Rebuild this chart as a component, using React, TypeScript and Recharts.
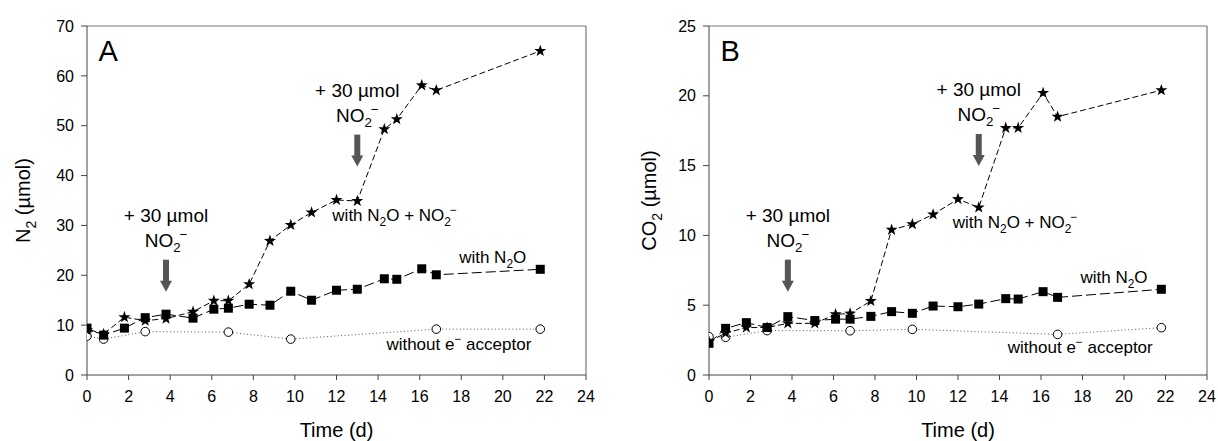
import React from 'react';
import {
  ComposedChart,
  Line,
  XAxis,
  YAxis,
  ReferenceLine,
  ReferenceDot,
} from 'recharts';

const FONT = '"Liberation Sans", Arial, sans-serif';

// sampling days (d)
const days = [0, 0.8, 1.8, 2.8, 3.8, 5.1, 6.1, 6.8, 7.8, 8.8, 9.8, 10.8, 12.0, 13.0, 14.3, 14.9, 16.1, 16.8, 21.8];
const ctrlDays = [0, 0.8, 2.8, 6.8, 9.8, 16.8, 21.8];
const timeTicks = [0, 2, 4, 6, 8, 10, 12, 14, 16, 18, 20, 22, 24];

// Panel A: N2 (umol)
const n2WithNitrite = [9.0, 8.2, 11.6, 10.9, 11.3, 12.7, 14.9, 14.9, 18.2, 26.9, 30.1, 32.6, 35.1, 34.9, 49.3, 51.3, 58.1, 57.1, 65.0];
const n2WithN2O = [9.4, 8.0, 9.4, 11.5, 12.2, 11.4, 13.2, 13.4, 14.2, 14.0, 16.8, 15.0, 17.0, 17.2, 19.3, 19.2, 21.3, 20.1, 21.2];
const n2NoAcceptor = [7.8, 7.2, 8.7, 8.6, 7.2, 9.2, 9.2];
const n2Ticks = [0, 10, 20, 30, 40, 50, 60, 70];

// Panel B: CO2 (umol)
const co2WithNitrite = [2.4, 3.0, 3.4, 3.4, 3.7, 3.7, 4.35, 4.4, 5.3, 10.4, 10.8, 11.5, 12.6, 12.0, 17.7, 17.7, 20.2, 18.5, 20.4];
const co2WithN2O = [2.27, 3.34, 3.75, 3.4, 4.18, 3.9, 4.0, 4.0, 4.2, 4.54, 4.42, 4.94, 4.89, 5.08, 5.47, 5.44, 5.97, 5.56, 6.14];
const co2NoAcceptor = [2.75, 2.7, 3.18, 3.17, 3.27, 2.91, 3.39];
const co2Ticks = [0, 5, 10, 15, 20, 25];

// nitrite additions (day)
const additionDays = [3.8, 13.0];

type Part = [string, 'n' | 'sub' | 'sup', number?];

function Chem({ x, y, parts, size, anchor = 'start', rotate = false }: {
  x: number; y: number; parts: Part[]; size: number; anchor?: string; rotate?: boolean;
}) {
  let shift = 0;
  return (
    <text
      x={x}
      y={y}
      fontSize={size}
      fontFamily={FONT}
      textAnchor={anchor}
      fill="#000"
      transform={rotate ? `rotate(-90 ${x} ${y})` : undefined}
    >
      {parts.map(([t, k, dx], i) => {
        const target = k === 'sub' ? size * 0.28 : k === 'sup' ? -size * 0.42 : 0;
        const dy = target - shift;
        shift = target;
        return (
          <tspan key={i} dy={dy} dx={dx ?? 0} fontSize={k === 'n' ? size : size * 0.7}>
            {t}
          </tspan>
        );
      })}
    </text>
  );
}

const NITRITE: Part[] = [['NO', 'n'], ['2', 'sub'], ['\u2212', 'sup', -1]];

function starPath(cx: number, cy: number, ro: number, ri: number) {
  let d = '';
  for (let i = 0; i < 10; i++) {
    const r = i % 2 === 0 ? ro : ri;
    const a = -Math.PI / 2 + (i * Math.PI) / 5;
    d += (i === 0 ? 'M' : 'L') + (cx + r * Math.cos(a)).toFixed(2) + ',' + (cy + r * Math.sin(a)).toFixed(2);
  }
  return d + 'Z';
}

const StarDot = (p: any) =>
  p.cx == null ? <g key={p.index} /> : <path key={p.index} d={starPath(p.cx, p.cy, 6.3, 2.5)} fill="#000" />;
const SquareDot = (p: any) =>
  p.cx == null ? <g key={p.index} /> : <rect key={p.index} x={p.cx - 4.5} y={p.cy - 4.5} width={9} height={9} fill="#000" />;
const CircleDot = (p: any) =>
  p.cx == null ? <g key={p.index} /> : <circle key={p.index} cx={p.cx} cy={p.cy} r={4.3} fill="#fff" stroke="#000" strokeWidth={1} />;

// arrow + "+ 30 µmol NO2-" note, tip sits on the anchor point
const AdditionNote = ({ cx, cy }: any) => (
  <g>
    <Chem x={cx} y={cy - 70} size={19} anchor="middle" parts={[['+ 30 \u00b5mol', 'n']]} />
    <Chem x={cx} y={cy - 45} size={19} anchor="middle" parts={NITRITE} />
    <rect x={cx - 3} y={cy - 32} width={6} height={22} fill="#555" />
    <path d={`M${cx - 6},${cy - 11}L${cx + 6},${cy - 11}L${cx},${cy}Z`} fill="#555" />
  </g>
);

const textNote = (parts: Part[], size: number) => ({ cx, cy }: any) => (
  <Chem x={cx} y={cy} size={size} parts={parts} />
);

interface PanelProps {
  letter: string;
  yTitle: Part[];
  yTicks: number[];
  nitrite: number[];
  n2o: number[];
  control: number[];
  arrowTips: number[];
  letterY: number;
  labelPos: { both: [number, number]; n2o: [number, number]; none: [number, number] };
  width: number;
  yAxisWidth: number;
  marginRight: number;
  titleX: number;
}

function Panel(props: PanelProps) {
  const { yTicks, width, yAxisWidth, marginRight } = props;
  const yMax = yTicks[yTicks.length - 1];
  const nitriteData = days.map((d, i) => ({ d, v: props.nitrite[i] }));
  const n2oData = days.map((d, i) => ({ d, v: props.n2o[i] }));
  const ctrlData = ctrlDays.map((d, i) => ({ d, v: props.control[i] }));
  const axisStroke = '#444';

  return (
    <ComposedChart width={width} height={441} margin={{ top: 26, right: marginRight, left: 0, bottom: 0 }}>
      <XAxis
        dataKey="d"
        type="number"
        domain={[0, 24]}
        ticks={timeTicks}
        allowDataOverflow
        height={66}
        tickSize={5}
        tickMargin={11}
        stroke={axisStroke}
        tick={{ fontSize: 16, fill: '#000', fontFamily: FONT }}
        label={{
          content: ({ viewBox }: any) => (
            <Chem x={viewBox.x + viewBox.width / 2} y={viewBox.y + 62} size={20} anchor="middle" parts={[['Time (d)', 'n']]} />
          ),
        }}
      />
      <YAxis
        type="number"
        domain={[0, yMax]}
        ticks={yTicks}
        width={yAxisWidth}
        tickSize={6}
        tickMargin={7}
        stroke={axisStroke}
        tick={{ fontSize: 16, fill: '#000', fontFamily: FONT }}
        label={{
          content: ({ viewBox }: any) => (
            <Chem x={props.titleX} y={viewBox.y + viewBox.height / 2} size={20} anchor="middle" rotate parts={props.yTitle} />
          ),
        }}
      />
      <ReferenceLine y={yMax} stroke="#777" strokeWidth={1.2} />
      <ReferenceLine x={24} stroke="#777" strokeWidth={1.2} />

      <Line
        data={ctrlData}
        dataKey="v"
        stroke="#555"
        strokeWidth={1}
        strokeDasharray="1 2.5"
        dot={CircleDot}
        isAnimationActive={false}
      />
      <Line
        data={nitriteData}
        dataKey="v"
        stroke="#000"
        strokeWidth={1}
        strokeDasharray="6 3"
        dot={StarDot}
        isAnimationActive={false}
      />
      <Line
        data={n2oData}
        dataKey="v"
        stroke="#000"
        strokeWidth={1}
        strokeDasharray="10 4"
        dot={SquareDot}
        isAnimationActive={false}
      />

      {additionDays.map((d, i) => (
        <ReferenceDot key={'add' + i} x={d} y={props.arrowTips[i]} r={0} shape={AdditionNote} />
      ))}
      <ReferenceDot x={props.labelPos.both[0]} y={props.labelPos.both[1]} r={0}
        shape={textNote([['with N', 'n'], ['2', 'sub'], ['O + NO', 'n'], ['2', 'sub'], ['\u2212', 'sup', -1]], 17)} />
      <ReferenceDot x={props.labelPos.n2o[0]} y={props.labelPos.n2o[1]} r={0}
        shape={textNote([['with N', 'n'], ['2', 'sub'], ['O', 'n']], 17)} />
      <ReferenceDot x={props.labelPos.none[0]} y={props.labelPos.none[1]} r={0}
        shape={textNote([['without e', 'n'], ['\u2212', 'sup'], [' acceptor', 'n']], 17)} />
      <ReferenceDot x={0.55} y={props.letterY} r={0} shape={textNote([[props.letter, 'n']], 29)} />
    </ComposedChart>
  );
}

export default function App() {
  return (
    <div style={{ position: 'absolute', left: 0, top: 0, width: 1218, height: 441, background: '#fff' }}>
      <div style={{ position: 'absolute', left: 0, top: 0 }}>
        <Panel
          letter="A"
          yTitle={[['N', 'n'], ['2', 'sub'], [' (\u00b5mol)', 'n']]}
          yTicks={n2Ticks}
          nitrite={n2WithNitrite}
          n2o={n2WithN2O}
          control={n2NoAcceptor}
          arrowTips={[16.7, 41.8]}
          letterY={63}
          labelPos={{ both: [11.8, 30.9], n2o: [17.9, 22.5], none: [14.4, 5.0] }}
          width={600}
          yAxisWidth={87}
          marginRight={14}
          titleX={30}
        />
      </div>
      <div style={{ position: 'absolute', left: 610, top: 0 }}>
        <Panel
          letter="B"
          yTitle={[['CO', 'n'], ['2', 'sub'], [' (\u00b5mol)', 'n']]}
          yTicks={co2Ticks}
          nitrite={co2WithNitrite}
          n2o={co2WithN2O}
          control={co2NoAcceptor}
          arrowTips={[5.97, 14.97]}
          letterY={22.5}
          labelPos={{ both: [11.75, 10.5], n2o: [17.9, 6.57], none: [14.4, 1.55] }}
          width={608}
          yAxisWidth={99}
          marginRight={11}
          titleX={46}
        />
      </div>
    </div>
  );
}
